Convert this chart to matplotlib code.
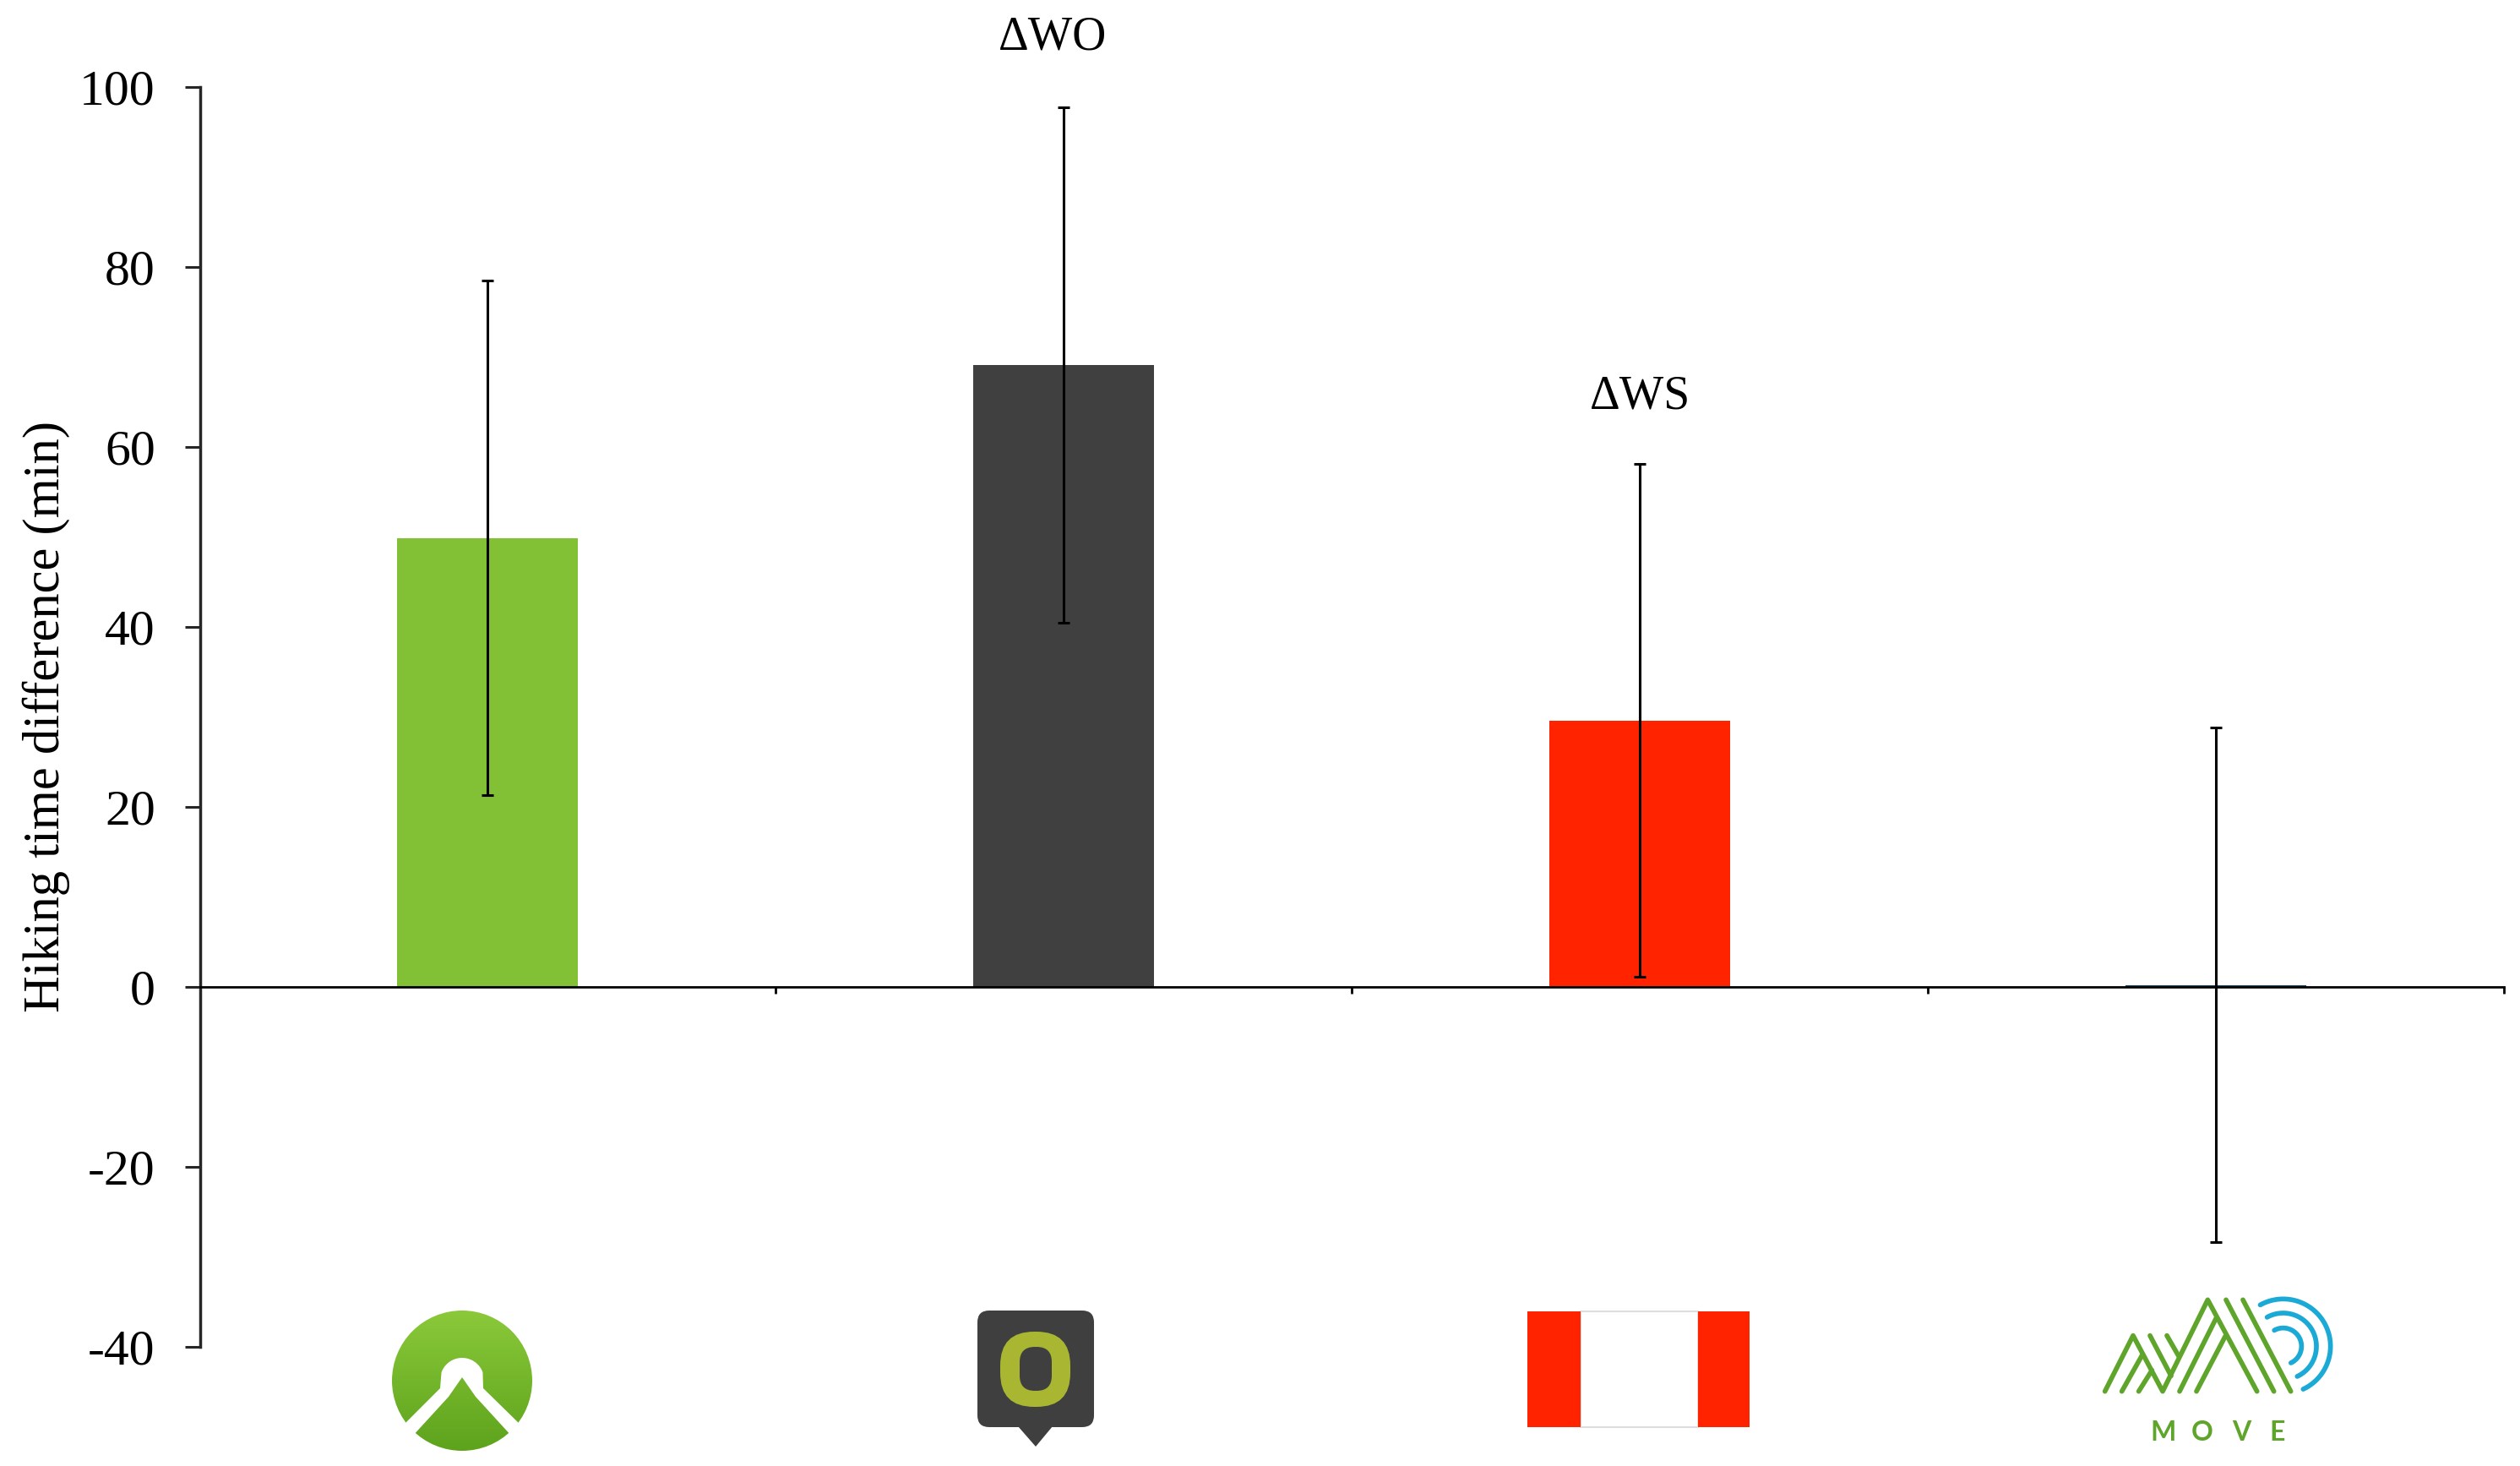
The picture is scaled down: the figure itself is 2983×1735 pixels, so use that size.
import numpy as np
import matplotlib
matplotlib.use("Agg")
import matplotlib.pyplot as plt
from matplotlib.patches import Circle, Polygon, Rectangle, FancyBboxPatch

# ---- data ----
apps = ["Komoot", "Oruxmaps", "Wikiloc-style marker", "Move"]
means = [49.9, 69.1, 29.6, 0.2]
errors = [28.6, 28.6, 28.5, 28.6]
bar_colors = ["#82C036", "#404040", "#FF2300", "#1F4E6B"]
y_ticks = [-40, -20, 0, 20, 40, 60, 80, 100]
y_label = "Hiking time difference (min)"
annotations = [("\u0394WO", 0.98, 104.2), ("\u0394WS", 2.0, 64.3)]

W, H, DPI = 2983, 1735, 100
plt.rcParams["font.family"] = ["Liberation Serif", "DejaVu Serif"]
plt.rcParams["axes.unicode_minus"] = False

fig = plt.figure(figsize=(W / DPI, H / DPI), dpi=DPI, facecolor="white")

# main axes
L, R, T, B = 236.5, 2964, 103, 1594
ax = fig.add_axes([L / W, 1 - B / H, (R - L) / W, (B - T) / H], zorder=2)
ax.patch.set_alpha(0)
x = np.arange(len(apps))
ax.bar(x, means, width=0.314, color=bar_colors, linewidth=0, zorder=2)
ax.errorbar(x, means, yerr=errors, fmt="none", ecolor="black",
            elinewidth=2.2, capsize=5, capthick=2.2, zorder=3)
ax.set_xlim(-0.5, 3.5)
ax.set_ylim(-40, 100)
ax.set_yticks(y_ticks)
ax.set_xticks(x + 0.5)
ax.set_xticklabels([])
for s in ("top", "right"):
    ax.spines[s].set_visible(False)
ax.spines["bottom"].set_position(("data", 0))
ax.spines["bottom"].set_linewidth(2.0)
ax.spines["left"].set_linewidth(2.5)
ax.spines["left"].set_color("#262626")
ax.tick_params(axis="y", direction="out", length=13, width=2.2, pad=25,
               labelsize=43, color="#262626")
ax.tick_params(axis="x", direction="out", length=6, width=2.0)
fig.text(55 / W, 1 - 848 / H, y_label, rotation=90, ha="center", va="center",
         fontsize=43.7)
for label, xp, yp in annotations:
    ax.text(xp, yp, label, ha="center", va="baseline", fontsize=40, clip_on=False)

# logos, in pixel coordinates of the figure
lg = fig.add_axes([0, 0, 1, 1], zorder=1)
lg.set_xlim(0, W)
lg.set_ylim(H, 0)
lg.axis("off")

# Komoot logo
cx, cy, r = 547, 1634, 83
grad = np.linspace(0, 1, 256).reshape(-1, 1)
cmap = matplotlib.colors.LinearSegmentedColormap.from_list("k", ["#8BC93A", "#5DA31C"])
im = lg.imshow(grad, cmap=cmap, extent=(cx - r, cx + r, cy + r, cy - r),
               aspect="auto", zorder=1)
clip = Circle((cx, cy), r, transform=lg.transData)
im.set_clip_path(clip)
lg.set_xlim(0, W)
lg.set_ylim(H, 0)
theta = np.radians(np.linspace(200, 340, 30))
arc = np.c_[cx + 26 * np.cos(theta), 1633 + 26 * np.sin(theta)]
chev = np.vstack([[(475, 1689), (521, 1643)], arc, [(572, 1643), (619, 1689),
                  (606, 1700), (563, 1653), (547, 1630), (531, 1653), (488, 1700)]])
lg.add_patch(Polygon(chev, closed=True, fc="white", ec="none", zorder=2))

# Oruxmaps logo
lg.add_patch(FancyBboxPatch((1171, 1565), 110, 110,
                            boxstyle="round,pad=14,rounding_size=14",
                            fc="#3F3F3F", ec="none", zorder=1))
lg.add_patch(Polygon([(1205, 1688), (1246, 1688), (1226, 1712)], fc="#3F3F3F",
                     ec="none", zorder=1))
lg.add_patch(FancyBboxPatch((1184 + 40, 1576 + 40), 83 - 80, 89 - 80,
                            boxstyle="round,pad=40,rounding_size=40",
                            fc="#A8B631", ec="none", zorder=2))
lg.add_patch(FancyBboxPatch((1207 + 18, 1594 + 18), 38 - 36, 52 - 36,
                            boxstyle="round,pad=18,rounding_size=18",
                            fc="#3F3F3F", ec="none", zorder=3))

# Red-white-red flag logo
lg.add_patch(Rectangle((1871, 1552), 139, 137, fc="white", ec="#DEDEDE", lw=1.5, zorder=1))
lg.add_patch(Rectangle((1808, 1552), 63, 137, fc="#FF2300", ec="none", zorder=2))
lg.add_patch(Rectangle((2010, 1552), 61, 137, fc="#FF2300", ec="none", zorder=2))

# Move logo
def mv(pts):
    p = np.asarray(pts, float)
    return 2450 + p[:, 0] / 3, 1510 + p[:, 1] / 3

green = "#5FA52B"
blue = "#1BA9D6"
strokes = [
    [(125, 410), (225, 212), (330, 410), (490, 85), (665, 410)],
    [(185, 410), (258, 280)],
    [(245, 410), (292, 335)],
    [(285, 212), (360, 355)],
    [(345, 212), (387, 285)],
    [(390, 410), (520, 150)],
    [(450, 410), (552, 215)],
    [(555, 85), (725, 410)],
    [(615, 85), (785, 410)],
]
for s in strokes:
    xs, ys = mv(s)
    lg.plot(xs, ys, color=green, lw=4.1, solid_capstyle="round",
            solid_joinstyle="round", zorder=1)
for rad in (168, 118, 65):
    t = np.radians(np.linspace(119, -65, 60))
    xs, ys = mv(np.c_[758 + rad * np.cos(t), 250 - rad * np.sin(t)])
    lg.plot(xs, ys, color=blue, lw=4.1, solid_capstyle="round", zorder=1)
for ch, xc in zip("MOVE", (333, 470, 610, 738)):
    xs, ys = mv([(xc, 585)])
    lg.text(xs[0], ys[0], ch, family="Lato", fontweight="bold", color=green,
            fontsize=23, ha="center", va="baseline")

fig.savefig("out.png", dpi=DPI, facecolor="white")
